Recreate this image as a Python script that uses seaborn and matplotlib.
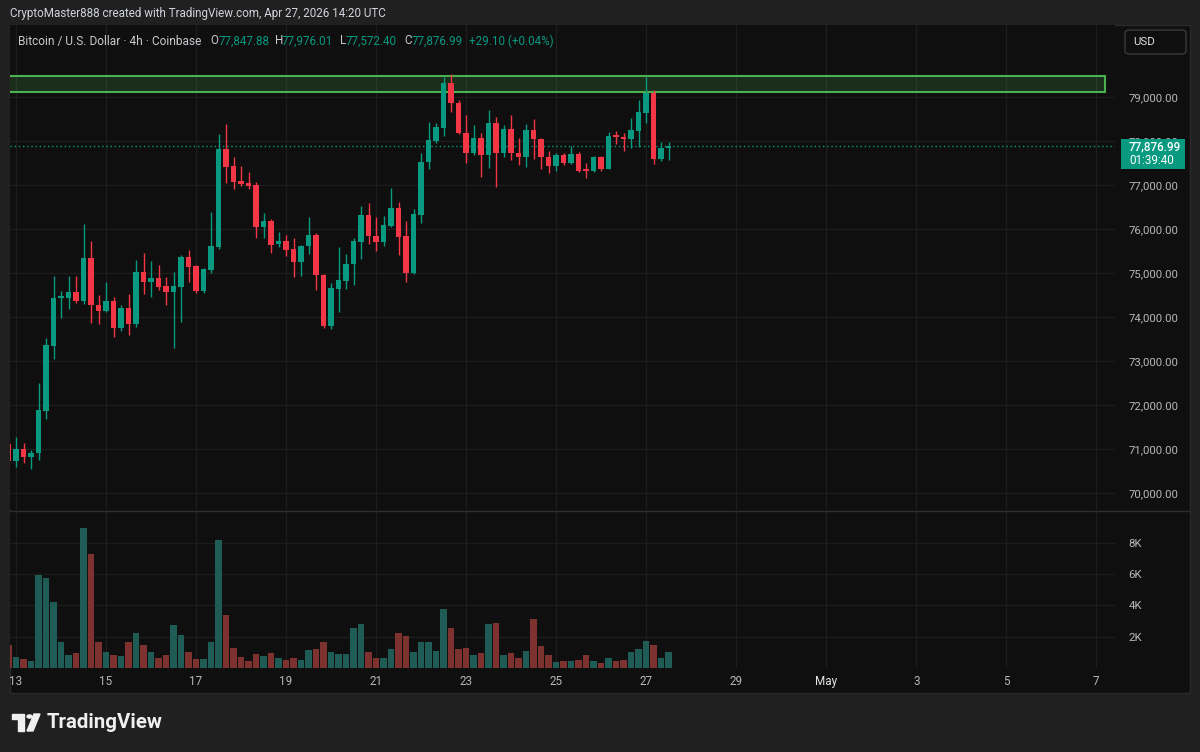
import numpy as np
import pandas as pd
import seaborn as sns
import matplotlib.pyplot as plt
from matplotlib.patches import Rectangle, FancyBboxPatch, Polygon, Circle
from matplotlib.lines import Line2D

sns.set_theme(style="dark")
plt.rcParams['font.family'] = ['Roboto', 'DejaVu Sans']

# BTC/USD 4h candles, index 0 = Apr 13 00:00 UTC
candle_idx = list(range(-1, 88))
opens = [71114, 70727, 71000, 70818, 70909, 71864, 73341, 74432, 74432, 74568,
         74364, 75341, 74273, 74136, 74364, 73750, 74205, 73841, 75023, 74795,
         74886, 74705, 74568, 74682, 75364, 75159, 74591, 75068, 75591, 77818,
         77432, 77091, 77045, 77000, 76045, 76182, 75659, 75727, 75545, 75250,
         75614, 75864, 74955, 73795, 74636, 74818, 75205, 75705, 76318, 75841,
         75705, 76068, 76477, 75841, 75000, 76318, 77523, 78000, 78295, 79318,
         78864, 78182, 77727, 78068, 77682, 78409, 77727, 78273, 77727, 77636,
         78250, 78045, 77636, 77432, 77682, 77500, 77705, 77364, 77318, 77636,
         77364, 78136, 78091, 78045, 78227, 78636, 79091, 77591, 77847.88]
highs = [71160, 71273, 71136, 70977, 72500, 73523, 74932, 74591, 74932, 74932,
         76114, 75727, 74500, 74795, 74455, 74273, 74523, 75295, 75455, 75273,
         75182, 74909, 75023, 75409, 75523, 75182, 75114, 76386, 78159, 78386,
         77636, 77432, 77295, 77068, 76364, 76227, 75932, 75864, 75795, 75636,
         76273, 75909, 74977, 74773, 75591, 75432, 75795, 76523, 76591, 76273,
         76295, 76932, 76614, 76182, 76455, 77727, 78432, 78409, 79455, 79523,
         78932, 78591, 78364, 78182, 78705, 78545, 78364, 78591, 78068, 78386,
         78500, 78068, 77773, 77727, 77727, 77886, 77750, 77500, 77659, 77659,
         78205, 78227, 78182, 78523, 78932, 79455, 79159, 77977, 77976.01]
lows = [70690, 70591, 70682, 70545, 70750, 71682, 73045, 73977, 74182, 74318,
        74295, 73864, 73841, 74114, 73545, 73682, 73591, 73773, 74523, 74455,
        74614, 74273, 73295, 73886, 74795, 74545, 74545, 75000, 75545, 77045,
        76909, 76977, 76909, 75795, 75795, 75455, 75591, 75386, 74909, 74932,
        75432, 74614, 73750, 73727, 74114, 74636, 74727, 75318, 75659, 75500,
        75614, 76040, 75409, 74795, 74980, 76136, 77364, 77955, 78114, 78659,
        78159, 77500, 77682, 77182, 77386, 76955, 77636, 77568, 77455, 77409,
        77591, 77364, 77273, 77318, 77455, 77477, 77295, 77159, 77295, 77318,
        77364, 77932, 77773, 77841, 77864, 78409, 77477, 77545, 77572.40]
closes = [70727, 71000, 70818, 70909, 71886, 73364, 74432, 74477, 74568, 74364,
          75341, 74273, 74136, 74364, 73750, 74205, 73841, 75023, 74795, 74886,
          74682, 74568, 74705, 75364, 75136, 74591, 75091, 75614, 77818, 77409,
          77068, 77023, 76977, 76045, 76182, 75636, 75727, 75523, 75250, 75614,
          75864, 74955, 73795, 74659, 74841, 75205, 75727, 76318, 75841, 75705,
          76091, 76477, 75818, 75000, 76341, 77523, 78023, 78318, 79318, 78864,
          78182, 77727, 78068, 77682, 78409, 77727, 78273, 77727, 77636, 78250,
          78045, 77636, 77432, 77682, 77500, 77705, 77318, 77318, 77636, 77364,
          78114, 78091, 78045, 78250, 78659, 79091, 77591, 77848, 77876.99]
volumes = [1480, 715, 606, 459, 5946, 5755, 4204, 1652, 842, 970,
           8945, 7286, 1691, 1014, 823, 778, 1691, 2246, 1461, 1014,
           670, 823, 2737, 2137, 1014, 587, 587, 1691, 8198, 3394,
           1270, 715, 459, 906, 778, 970, 670, 523, 670, 523,
           1161, 1225, 1652, 1014, 906, 906, 2522, 2820, 1053, 670,
           670, 1206, 2225, 2035, 1014, 1691, 1691, 1097, 3796, 2522,
           1206, 1289, 861, 970, 2820, 2865, 861, 970, 670, 1097,
           3120, 1397, 823, 376, 415, 459, 523, 861, 459, 332,
           670, 415, 523, 1053, 1206, 1735, 1500, 670, 1014]

date_ticks = [0, 12, 24, 36, 48, 60, 72, 84, 96, 108, 120, 132, 144]
date_labels = ["13", "15", "17", "19", "21", "23", "25", "27", "29", "May", "3", "5", "7"]
price_ticks = [70000, 71000, 72000, 73000, 74000, 75000, 76000, 77000, 78000, 79000]
vol_ticks = [2000, 4000, 6000, 8000]
vol_labels = ["2K", "4K", "6K", "8K"]
zone_low, zone_high, zone_end = 79107, 79484, 145.2
last_price = 77876.99

UP, DOWN = "#089981", "#f23645"
VOL_UP, VOL_DN = "#1e5c55", "#7d3230"
BG, PANEL, GRID, TXT = "#202020", "#0f0f0f", "#1d1d1d", "#b8b8b8"

df = pd.DataFrame({"i": candle_idx, "o": opens, "h": highs, "l": lows,
                   "c": closes, "v": volumes})
df["dir"] = np.where(df.c >= df.o, "up", "down")
colors = np.where(df.c >= df.o, UP, DOWN)

W, H = 1200, 752
fig = plt.figure(figsize=(12, 7.52), dpi=100, facecolor=BG)


def box(x0, y0, x1, y1):
    return [x0 / W, 1 - y1 / H, (x1 - x0) / W, (y1 - y0) / H]


def fx(x):
    return x / W


def fy(y):
    return 1 - y / H


# chart panel
fig.add_artist(Rectangle((fx(10), fy(693)), 1180 / W, 668 / H, transform=fig.transFigure,
                         facecolor=PANEL, edgecolor="#2a2a2a", lw=1, zorder=-1))

axp = fig.add_axes(box(10, 25, 1115, 510))
axv = fig.add_axes(box(10, 512, 1115, 668))
x_lim = (-0.8, 146.5)

for ax in (axp, axv):
    ax.set_facecolor(PANEL)
    for s in ax.spines.values():
        s.set_visible(False)
    ax.grid(True, color=GRID, lw=1)
    ax.set_axisbelow(True)

# candles
axp.vlines(df.i, df.l, df.h, colors=colors, lw=1, zorder=3)
body_lo = np.minimum(df.o, df.c)
body_h = np.maximum((df.c - df.o).abs(), 25)
axp.bar(df.i, body_h, bottom=body_lo, width=0.74, color=colors, lw=0, zorder=4)

# resistance zone
axp.add_patch(Rectangle((-5, zone_low), zone_end + 5, zone_high - zone_low,
                        facecolor=(76 / 255, 175 / 255, 80 / 255, 0.2),
                        edgecolor="#4caf50", lw=1.5, zorder=2))
axp.axhline(last_price, color=UP, lw=1, ls=(0, (1, 2)), zorder=1)

axp.set_xlim(x_lim)
axp.set_ylim(69614, 80636)
axp.set_xticks(date_ticks)
axp.tick_params(axis="x", labelbottom=False, length=0)
axp.yaxis.tick_right()
axp.set_yticks(price_ticks)
axp.set_yticklabels([f"{p:,.2f}" for p in price_ticks])
axp.tick_params(axis="y", length=0, pad=9.5, labelsize=8.2, labelcolor=TXT)

# volume
sns.barplot(data=df, x="i", y="v", hue="dir", palette={"up": VOL_UP, "down": VOL_DN},
            native_scale=True, width=0.87, dodge=False, errorbar=None, legend=False,
            saturation=1, linewidth=0, ax=axv)
axv.set_xlim(x_lim)
axv.set_ylim(0, 9958)
axv.set_xlabel("")
axv.set_ylabel("")
axv.yaxis.tick_right()
axv.set_yticks(vol_ticks)
axv.set_yticklabels(vol_labels)
axv.set_xticks(date_ticks)
axv.set_xticklabels(date_labels)
axv.tick_params(axis="y", length=0, pad=9.5, labelsize=8.2, labelcolor=TXT)
axv.tick_params(axis="x", length=0, pad=5, labelsize=8.4, labelcolor=TXT)
axv.get_xticklabels()[9].set_color("#e6e6e6")

# pane separator
fig.add_artist(Line2D([fx(10), fx(1190)], [fy(511), fy(511)], color="#2e2e2e", lw=1))

# last price label
fig.add_artist(Rectangle((fx(1121), fy(169)), 64 / W, 30 / H, transform=fig.transFigure,
                         facecolor=UP, edgecolor="none", zorder=10))
fig.text(fx(1129), fy(147), "77,876.99", color="white", fontsize=8.4, fontweight="medium",
         va="center", zorder=11)
fig.text(fx(1129), fy(161), "01:39:40", color="white", fontsize=8.4, va="center", zorder=11)

# USD box
fig.add_artist(FancyBboxPatch((fx(1125), fy(54)), 61 / W, 24 / H, transform=fig.transFigure,
                              boxstyle="round,pad=0,rounding_size=0.004",
                              facecolor=PANEL, edgecolor="#3a3a3a", lw=1, zorder=10))
fig.text(fx(1133), fy(42), "USD", color="#e0e0e0", fontsize=8.2, va="center", zorder=11)

# header
fig.text(fx(10), fy(14), "CryptoMaster888 created with TradingView.com, Apr 27, 2026 14:20 UTC",
         color="#d1d4dc", fontsize=8.4, va="center")
fig.text(fx(18), fy(41), "Bitcoin / U.S. Dollar · 4h · Coinbase", color="#c8cad0",
         fontsize=8.6, va="center")
legend = [(210.5, "O", 219, "77,847.88"), (275, "H", 282, "77,976.01"),
          (340, "L", 346, "77,572.40"), (404, "C", 411.5, "77,876.99")]
for lx, lt, vx, vt in legend:
    fig.text(fx(lx), fy(41), lt, color="#c8cad0", fontsize=8.4, va="center")
    fig.text(fx(vx), fy(41), vt, color=UP, fontsize=8.4, va="center")
fig.text(fx(469), fy(41), "+29.10 (+0.04%)", color=UP, fontsize=8.4, va="center")

# TradingView logo
logo_c = "#f0f0f0"
fig.add_artist(Polygon([(fx(12), fy(714)), (fx(24), fy(714)), (fx(24), fy(731)),
                        (fx(18), fy(731)), (fx(18), fy(719)), (fx(12), fy(719))],
                       closed=True, transform=fig.transFigure, color=logo_c))
fig.add_artist(Polygon([(fx(34), fy(714)), (fx(40), fy(714)), (fx(33), fy(731)),
                        (fx(27), fy(731))], closed=True, transform=fig.transFigure, color=logo_c))
fig.add_artist(Circle((fx(29.5), fy(716.5)), 2.5 / W, transform=fig.transFigure, color=logo_c))
fig.text(fx(47), fy(723), "TradingView", color=logo_c, fontsize=14.7, fontweight="bold",
         va="center")

fig.savefig("out.png", dpi=100, facecolor=fig.get_facecolor())
